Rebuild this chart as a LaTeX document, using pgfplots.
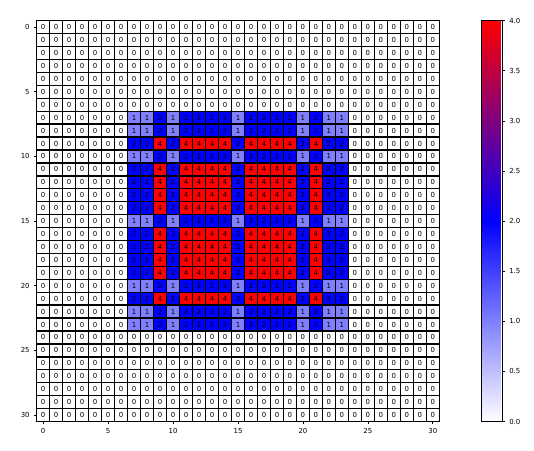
\documentclass[border=0pt]{standalone}
\usepackage{pgfplots}
\pgfplotsset{compat=1.18}
\usepackage{fontspec}
\setmainfont{DejaVu Sans}
\definecolor{cOne}{RGB}{128,128,255}
\definecolor{cTwo}{RGB}{0,0,255}
\definecolor{cFour}{RGB}{255,0,0}
\pgfplotsset{cell/.style={only marks, mark=square*, mark size=4.86pt,
  mark options={draw=black, fill=#1, line width=1.0pt},
  nodes near coords align={center},
  every node near coord/.append style={font=\fontsize{5.2}{6}\selectfont, text=black, inner sep=0pt}}}
\begin{document}
\begin{tikzpicture}
\path[use as bounding box] (0,0) rectangle (400.5pt,-337.5pt);
\begin{axis}[
  at={(27.525pt,-15.525pt)}, anchor=north west,
  width=301.95pt, height=300.6pt, scale only axis,
  y dir=reverse,
  xmin=-0.5, xmax=30.5, ymin=-0.5, ymax=30.5,
  enlargelimits=false, clip=false,
  xtick={0,5,...,30}, ytick={0,5,...,30},
  axis line style={black, line width=1.0pt},
  axis on top,
  tick align=outside, major tick length=1.8pt,
  xtick pos=bottom, ytick pos=left,
  tick style={black, line width=0.5pt},
  /pgf/number format/assume math mode=true,
  tick label style={font=\fontsize{5.2}{6}\selectfont},
  colormap={wbr}{rgb255=(255,255,255) rgb255=(0,0,255) rgb255=(255,0,0)},
  point meta min=0, point meta max=4,
  colorbar,
  colorbar style={
    at={(parent axis.north east)}, anchor=north west, xshift=23.25pt,
    width=15.4pt,
    ytick={0,0.5,...,4},
    yticklabel style={font=\fontsize{5.2}{6}\selectfont, /pgf/number format/.cd, fixed, fixed zerofill, precision=1, assume math mode=true},
    tick align=outside, major tick length=1.8pt,
    axis line style={black, line width=0.5pt},
    ytick pos=right,
  },
]
% value 0
\addplot[cell=white, nodes near coords={0}] coordinates {
(0,0) (1,0) (2,0) (3,0) (4,0) (5,0) (6,0) (7,0) (8,0) (9,0) (10,0) (11,0) (12,0) (13,0) (14,0) (15,0) (16,0) (17,0) (18,0) (19,0) (20,0) (21,0) (22,0) (23,0) (24,0) (25,0) (26,0) (27,0) (28,0) (29,0) (30,0)
(0,1) (1,1) (2,1) (3,1) (4,1) (5,1) (6,1) (7,1) (8,1) (9,1) (10,1) (11,1) (12,1) (13,1) (14,1) (15,1) (16,1) (17,1) (18,1) (19,1) (20,1) (21,1) (22,1) (23,1) (24,1) (25,1) (26,1) (27,1) (28,1) (29,1) (30,1)
(0,2) (1,2) (2,2) (3,2) (4,2) (5,2) (6,2) (7,2) (8,2) (9,2) (10,2) (11,2) (12,2) (13,2) (14,2) (15,2) (16,2) (17,2) (18,2) (19,2) (20,2) (21,2) (22,2) (23,2) (24,2) (25,2) (26,2) (27,2) (28,2) (29,2) (30,2)
(0,3) (1,3) (2,3) (3,3) (4,3) (5,3) (6,3) (7,3) (8,3) (9,3) (10,3) (11,3) (12,3) (13,3) (14,3) (15,3) (16,3) (17,3) (18,3) (19,3) (20,3) (21,3) (22,3) (23,3) (24,3) (25,3) (26,3) (27,3) (28,3) (29,3) (30,3)
(0,4) (1,4) (2,4) (3,4) (4,4) (5,4) (6,4) (7,4) (8,4) (9,4) (10,4) (11,4) (12,4) (13,4) (14,4) (15,4) (16,4) (17,4) (18,4) (19,4) (20,4) (21,4) (22,4) (23,4) (24,4) (25,4) (26,4) (27,4) (28,4) (29,4) (30,4)
(0,5) (1,5) (2,5) (3,5) (4,5) (5,5) (6,5) (7,5) (8,5) (9,5) (10,5) (11,5) (12,5) (13,5) (14,5) (15,5) (16,5) (17,5) (18,5) (19,5) (20,5) (21,5) (22,5) (23,5) (24,5) (25,5) (26,5) (27,5) (28,5) (29,5) (30,5)
(0,6) (1,6) (2,6) (3,6) (4,6) (5,6) (6,6) (7,6) (8,6) (9,6) (10,6) (11,6) (12,6) (13,6) (14,6) (15,6) (16,6) (17,6) (18,6) (19,6) (20,6) (21,6) (22,6) (23,6) (24,6) (25,6) (26,6) (27,6) (28,6) (29,6) (30,6)
(0,7) (1,7) (2,7) (3,7) (4,7) (5,7) (6,7) (24,7) (25,7) (26,7) (27,7) (28,7) (29,7) (30,7)
(0,8) (1,8) (2,8) (3,8) (4,8) (5,8) (6,8) (24,8) (25,8) (26,8) (27,8) (28,8) (29,8) (30,8)
(0,9) (1,9) (2,9) (3,9) (4,9) (5,9) (6,9) (24,9) (25,9) (26,9) (27,9) (28,9) (29,9) (30,9)
(0,10) (1,10) (2,10) (3,10) (4,10) (5,10) (6,10) (24,10) (25,10) (26,10) (27,10) (28,10) (29,10) (30,10)
(0,11) (1,11) (2,11) (3,11) (4,11) (5,11) (6,11) (24,11) (25,11) (26,11) (27,11) (28,11) (29,11) (30,11)
(0,12) (1,12) (2,12) (3,12) (4,12) (5,12) (6,12) (24,12) (25,12) (26,12) (27,12) (28,12) (29,12) (30,12)
(0,13) (1,13) (2,13) (3,13) (4,13) (5,13) (6,13) (24,13) (25,13) (26,13) (27,13) (28,13) (29,13) (30,13)
(0,14) (1,14) (2,14) (3,14) (4,14) (5,14) (6,14) (24,14) (25,14) (26,14) (27,14) (28,14) (29,14) (30,14)
(0,15) (1,15) (2,15) (3,15) (4,15) (5,15) (6,15) (24,15) (25,15) (26,15) (27,15) (28,15) (29,15) (30,15)
(0,16) (1,16) (2,16) (3,16) (4,16) (5,16) (6,16) (24,16) (25,16) (26,16) (27,16) (28,16) (29,16) (30,16)
(0,17) (1,17) (2,17) (3,17) (4,17) (5,17) (6,17) (24,17) (25,17) (26,17) (27,17) (28,17) (29,17) (30,17)
(0,18) (1,18) (2,18) (3,18) (4,18) (5,18) (6,18) (24,18) (25,18) (26,18) (27,18) (28,18) (29,18) (30,18)
(0,19) (1,19) (2,19) (3,19) (4,19) (5,19) (6,19) (24,19) (25,19) (26,19) (27,19) (28,19) (29,19) (30,19)
(0,20) (1,20) (2,20) (3,20) (4,20) (5,20) (6,20) (24,20) (25,20) (26,20) (27,20) (28,20) (29,20) (30,20)
(0,21) (1,21) (2,21) (3,21) (4,21) (5,21) (6,21) (24,21) (25,21) (26,21) (27,21) (28,21) (29,21) (30,21)
(0,22) (1,22) (2,22) (3,22) (4,22) (5,22) (6,22) (24,22) (25,22) (26,22) (27,22) (28,22) (29,22) (30,22)
(0,23) (1,23) (2,23) (3,23) (4,23) (5,23) (6,23) (24,23) (25,23) (26,23) (27,23) (28,23) (29,23) (30,23)
(0,24) (1,24) (2,24) (3,24) (4,24) (5,24) (6,24) (7,24) (8,24) (9,24) (10,24) (11,24) (12,24) (13,24) (14,24) (15,24) (16,24) (17,24) (18,24) (19,24) (20,24) (21,24) (22,24) (23,24) (24,24) (25,24) (26,24) (27,24) (28,24) (29,24) (30,24)
(0,25) (1,25) (2,25) (3,25) (4,25) (5,25) (6,25) (7,25) (8,25) (9,25) (10,25) (11,25) (12,25) (13,25) (14,25) (15,25) (16,25) (17,25) (18,25) (19,25) (20,25) (21,25) (22,25) (23,25) (24,25) (25,25) (26,25) (27,25) (28,25) (29,25) (30,25)
(0,26) (1,26) (2,26) (3,26) (4,26) (5,26) (6,26) (7,26) (8,26) (9,26) (10,26) (11,26) (12,26) (13,26) (14,26) (15,26) (16,26) (17,26) (18,26) (19,26) (20,26) (21,26) (22,26) (23,26) (24,26) (25,26) (26,26) (27,26) (28,26) (29,26) (30,26)
(0,27) (1,27) (2,27) (3,27) (4,27) (5,27) (6,27) (7,27) (8,27) (9,27) (10,27) (11,27) (12,27) (13,27) (14,27) (15,27) (16,27) (17,27) (18,27) (19,27) (20,27) (21,27) (22,27) (23,27) (24,27) (25,27) (26,27) (27,27) (28,27) (29,27) (30,27)
(0,28) (1,28) (2,28) (3,28) (4,28) (5,28) (6,28) (7,28) (8,28) (9,28) (10,28) (11,28) (12,28) (13,28) (14,28) (15,28) (16,28) (17,28) (18,28) (19,28) (20,28) (21,28) (22,28) (23,28) (24,28) (25,28) (26,28) (27,28) (28,28) (29,28) (30,28)
(0,29) (1,29) (2,29) (3,29) (4,29) (5,29) (6,29) (7,29) (8,29) (9,29) (10,29) (11,29) (12,29) (13,29) (14,29) (15,29) (16,29) (17,29) (18,29) (19,29) (20,29) (21,29) (22,29) (23,29) (24,29) (25,29) (26,29) (27,29) (28,29) (29,29) (30,29)
(0,30) (1,30) (2,30) (3,30) (4,30) (5,30) (6,30) (7,30) (8,30) (9,30) (10,30) (11,30) (12,30) (13,30) (14,30) (15,30) (16,30) (17,30) (18,30) (19,30) (20,30) (21,30) (22,30) (23,30) (24,30) (25,30) (26,30) (27,30) (28,30) (29,30) (30,30)
};
% value 1
\addplot[cell=cOne, nodes near coords={1}] coordinates {
(7,7) (8,7) (10,7) (15,7) (20,7) (22,7) (23,7)
(7,8) (8,8) (10,8) (15,8) (20,8) (22,8) (23,8)
(7,10) (8,10) (10,10) (15,10) (20,10) (22,10) (23,10)
(7,15) (8,15) (10,15) (15,15) (20,15) (22,15) (23,15)
(7,20) (8,20) (10,20) (15,20) (20,20) (22,20) (23,20)
(7,22) (8,22) (10,22) (15,22) (20,22) (22,22) (23,22)
(7,23) (8,23) (10,23) (15,23) (20,23) (22,23) (23,23)
};
% value 2
\addplot[cell=cTwo, nodes near coords={2}] coordinates {
(9,7) (11,7) (12,7) (13,7) (14,7) (16,7) (17,7) (18,7) (19,7) (21,7)
(9,8) (11,8) (12,8) (13,8) (14,8) (16,8) (17,8) (18,8) (19,8) (21,8)
(9,10) (11,10) (12,10) (13,10) (14,10) (16,10) (17,10) (18,10) (19,10) (21,10)
(9,15) (11,15) (12,15) (13,15) (14,15) (16,15) (17,15) (18,15) (19,15) (21,15)
(9,20) (11,20) (12,20) (13,20) (14,20) (16,20) (17,20) (18,20) (19,20) (21,20)
(9,22) (11,22) (12,22) (13,22) (14,22) (16,22) (17,22) (18,22) (19,22) (21,22)
(9,23) (11,23) (12,23) (13,23) (14,23) (16,23) (17,23) (18,23) (19,23) (21,23)
(7,9) (8,9) (10,9) (15,9) (20,9) (22,9) (23,9)
(7,11) (8,11) (10,11) (15,11) (20,11) (22,11) (23,11)
(7,12) (8,12) (10,12) (15,12) (20,12) (22,12) (23,12)
(7,13) (8,13) (10,13) (15,13) (20,13) (22,13) (23,13)
(7,14) (8,14) (10,14) (15,14) (20,14) (22,14) (23,14)
(7,16) (8,16) (10,16) (15,16) (20,16) (22,16) (23,16)
(7,17) (8,17) (10,17) (15,17) (20,17) (22,17) (23,17)
(7,18) (8,18) (10,18) (15,18) (20,18) (22,18) (23,18)
(7,19) (8,19) (10,19) (15,19) (20,19) (22,19) (23,19)
(7,21) (8,21) (10,21) (15,21) (20,21) (22,21) (23,21)
};
% value 4
\addplot[cell=cFour, nodes near coords={4}] coordinates {
(9,9) (11,9) (12,9) (13,9) (14,9) (16,9) (17,9) (18,9) (19,9) (21,9)
(9,11) (11,11) (12,11) (13,11) (14,11) (16,11) (17,11) (18,11) (19,11) (21,11)
(9,12) (11,12) (12,12) (13,12) (14,12) (16,12) (17,12) (18,12) (19,12) (21,12)
(9,13) (11,13) (12,13) (13,13) (14,13) (16,13) (17,13) (18,13) (19,13) (21,13)
(9,14) (11,14) (12,14) (13,14) (14,14) (16,14) (17,14) (18,14) (19,14) (21,14)
(9,16) (11,16) (12,16) (13,16) (14,16) (16,16) (17,16) (18,16) (19,16) (21,16)
(9,17) (11,17) (12,17) (13,17) (14,17) (16,17) (17,17) (18,17) (19,17) (21,17)
(9,18) (11,18) (12,18) (13,18) (14,18) (16,18) (17,18) (18,18) (19,18) (21,18)
(9,19) (11,19) (12,19) (13,19) (14,19) (16,19) (17,19) (18,19) (19,19) (21,19)
(9,21) (11,21) (12,21) (13,21) (14,21) (16,21) (17,21) (18,21) (19,21) (21,21)
};
\end{axis}
\end{tikzpicture}
\end{document}
